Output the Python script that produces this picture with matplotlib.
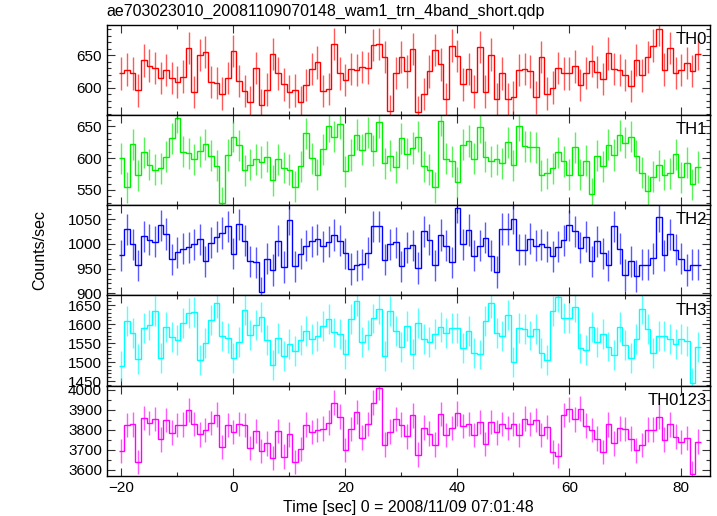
import matplotlib
matplotlib.use('Agg')
import matplotlib.pyplot as plt
from matplotlib.ticker import MultipleLocator
import numpy as np

plt.rcParams['font.family'] = ['Liberation Sans', 'DejaVu Sans']

# bin centres (1 s bins), time relative to 2008/11/09 07:01:48
time = np.arange(-20, 84)

th0 = [622, 628, 622, 596, 642, 634, 630, 615, 627, 615, 609, 617, 661, 593, 650, 655,
       609, 607, 591, 615, 657, 610, 595, 578, 630, 573, 597, 652, 622, 605, 594, 596,
       578, 604, 629, 639, 595, 598, 667, 622, 612, 629, 627, 632, 630, 666, 667, 647,
       564, 623, 647, 625, 660, 562, 590, 625, 658, 636, 582, 665, 649, 605, 629, 594,
       663, 594, 651, 583, 622, 582, 585, 627, 629, 625, 585, 647, 591, 600, 630, 622,
       622, 633, 604, 623, 641, 624, 613, 653, 629, 627, 620, 603, 643, 619, 647, 665,
       690, 628, 661, 623, 627, 638, 626, 652]

th1 = [600, 554, 622, 573, 609, 590, 582, 584, 602, 631, 664, 610, 608, 598, 611, 622,
       604, 588, 530, 605, 634, 620, 581, 590, 598, 594, 602, 565, 598, 585, 582, 555,
       587, 639, 600, 574, 614, 650, 634, 654, 579, 605, 637, 613, 640, 612, 657, 592,
       604, 586, 631, 607, 616, 634, 587, 582, 554, 659, 599, 595, 562, 621, 627, 599,
       649, 602, 595, 598, 592, 625, 589, 651, 619, 618, 617, 573, 576, 584, 609, 595,
       574, 617, 574, 596, 544, 604, 587, 621, 605, 636, 624, 634, 604, 577, 549, 571,
       589, 574, 576, 606, 570, 593, 559, 586]

th2 = [977, 1029, 999, 957, 1015, 1008, 1004, 1037, 1020, 969, 983, 990, 993, 999, 1009, 965,
       1002, 1014, 1022, 1035, 980, 1039, 1006, 965, 963, 902, 970, 947, 1006, 953, 1049, 955,
       980, 996, 1005, 1009, 995, 1004, 1018, 1006, 981, 949, 957, 959, 982, 1035, 1035, 968,
       999, 1003, 955, 992, 997, 951, 1025, 1008, 957, 1018, 996, 963, 1073, 999, 1028, 976,
       996, 1012, 976, 943, 1030, 1030, 1051, 988, 988, 1010, 996, 999, 994, 975, 994, 1007,
       1037, 1025, 992, 1014, 965, 1005, 981, 957, 1035, 990, 937, 965, 935, 958, 958, 971,
       1055, 977, 1019, 988, 970, 947, 958, 958]

th3 = [1490, 1608, 1577, 1509, 1589, 1598, 1634, 1510, 1592, 1566, 1558, 1603, 1630, 1632, 1505, 1551,
       1611, 1657, 1569, 1563, 1510, 1553, 1638, 1571, 1598, 1619, 1558, 1491, 1563, 1516, 1547, 1528,
       1557, 1582, 1561, 1569, 1594, 1614, 1578, 1574, 1521, 1614, 1662, 1553, 1571, 1615, 1640, 1517,
       1635, 1581, 1539, 1595, 1521, 1603, 1560, 1553, 1575, 1592, 1577, 1590, 1589, 1536, 1581, 1523,
       1520, 1608, 1656, 1577, 1569, 1624, 1500, 1590, 1588, 1570, 1587, 1523, 1505, 1634, 1672, 1616,
       1616, 1646, 1538, 1533, 1593, 1552, 1573, 1541, 1518, 1592, 1546, 1510, 1562, 1641, 1588, 1523,
       1568, 1568, 1561, 1548, 1561, 1555, 1445, 1539]

th0123 = [3693, 3823, 3827, 3638, 3858, 3833, 3853, 3752, 3848, 3785, 3823, 3825, 3898, 3828, 3777, 3798,
          3833, 3875, 3713, 3823, 3788, 3828, 3823, 3708, 3793, 3693, 3732, 3658, 3793, 3665, 3777, 3638,
          3703, 3825, 3788, 3798, 3805, 3835, 3935, 3865, 3698, 3803, 3888, 3760, 3828, 3935, 4007, 3725,
          3790, 3853, 3825, 3767, 3872, 3675, 3810, 3780, 3725, 3878, 3773, 3808, 3882, 3818, 3828, 3773,
          3838, 3728, 3838, 3787, 3828, 3808, 3828, 3773, 3855, 3828, 3848, 3773, 3813, 3688, 3670, 3873,
          3902, 3852, 3905, 3820, 3798, 3755, 3688, 3827, 3732, 3807, 3803, 3755, 3697, 3723, 3800, 3800,
          3865, 3750, 3827, 3765, 3738, 3758, 3580, 3740]

# typical 1-sigma error per band (counts/sec)
errors = [25, 24.5, 31.5, 39.5, 61.5]

bands = ['TH0', 'TH1', 'TH2', 'TH3', 'TH0123']
series = [th0, th1, th2, th3, th0123]
colors = ['#ff0000', '#00ee00', '#0000ff', '#00ffff', '#ff00ff']
ylims = [(558, 697), (526, 668), (896, 1078), (1438, 1676), (3570, 4020)]
ymajor = [50, 50, 50, 50, 100]
yminor = [10, 10, 10, 10, 50]

fig, axes = plt.subplots(5, 1, figsize=(7.17, 5.16), dpi=100, sharex=True,
                         gridspec_kw={'hspace': 0})
fig.subplots_adjust(left=0.149, right=0.990, top=0.952, bottom=0.078)

edges = np.append(time - 0.5, time[-1] + 0.5)

for ax, name, vals, err, col, yl, mj, mn in zip(axes, bands, series, errors, colors,
                                                 ylims, ymajor, yminor):
    vals = np.array(vals, dtype=float)
    ax.errorbar(time, vals, yerr=err, fmt='none', ecolor=col, elinewidth=1.0,
                capsize=0, alpha=0.65)
    ax.stairs(vals, edges, baseline=None, color=col, linewidth=1.0)
    ax.set_ylim(*yl)
    ax.set_xlim(-22.6, 85.1)
    ax.yaxis.set_major_locator(MultipleLocator(mj))
    ax.yaxis.set_minor_locator(MultipleLocator(mn))
    ax.xaxis.set_major_locator(MultipleLocator(20))
    ax.xaxis.set_minor_locator(MultipleLocator(10))
    ax.tick_params(which='both', direction='in', top=True, right=True,
                   labelsize=11, width=0.8, color='#333333')
    ax.tick_params(which='major', length=6)
    ax.tick_params(which='minor', length=3)
    for sp in ax.spines.values():
        sp.set_linewidth(1.0)
    ax.text(0.995, 0.92, name, transform=ax.transAxes, ha='right', va='top',
            fontsize=12)

axes[-1].tick_params(axis='x', pad=4)

fig.text(0.149, 0.978, 'ae703023010_20081109070148_wam1_trn_4band_short.qdp',
         ha='left', va='center', fontsize=11.5)
fig.text(0.57, 0.016, 'Time [sec] 0 = 2008/11/09 07:01:48', ha='center',
         va='center', fontsize=11.5)
fig.text(0.056, 0.515, 'Counts/sec', rotation=90, ha='center', va='center',
         fontsize=11.5)

plt.savefig('out.png', dpi=100)
plt.close()
